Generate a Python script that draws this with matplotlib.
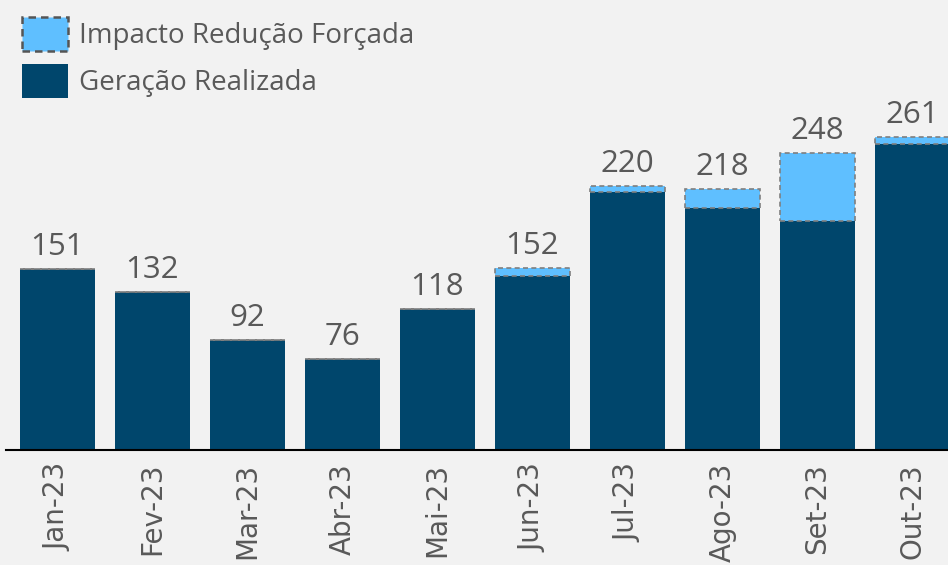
import matplotlib
matplotlib.use("Agg")
import matplotlib.pyplot as plt
from matplotlib.patches import Patch
import numpy as np

months = ["Jan-23", "Fev-23", "Mar-23", "Abr-23", "Mai-23", "Jun-23", "Jul-23", "Ago-23", "Set-23", "Out-23"]
realizada = [151, 132, 92, 76, 118, 145, 215, 202, 191, 255]
impacto = [0, 0, 0, 0, 0, 7, 5, 16, 57, 6]
totais = [151, 132, 92, 76, 118, 152, 220, 218, 248, 261]

BG = "#F2F2F2"
DARK = "#00466C"
LIGHT = "#5FBFFF"
EDGE = "#7F7F7F"
TXT = "#595959"

fig = plt.figure(figsize=(9.48, 5.65), dpi=100, facecolor=BG)
ax = fig.add_axes([6 / 948, 0.2027, 942 / 948, 0.7973], facecolor=BG)

x = np.arange(len(months))
w = 0.79
ax.bar(x, realizada, width=w, color=DARK, edgecolor="none", zorder=2)
ax.bar(x, impacto, bottom=realizada, width=w, color=LIGHT, edgecolor=EDGE,
       linestyle=(0, (3, 2)), linewidth=1.2, zorder=3)

for xi, t in zip(x, totais):
    ax.annotate(str(t), (xi, t), xytext=(0, 5), textcoords="offset points",
                ha="center", va="bottom", fontsize=22.5, color=TXT, family="Open Sans")

ax.set_xlim(-0.542, 9.374)
ax.set_ylim(0, 375)
ax.set_yticks([])
for s in ["top", "right", "left"]:
    ax.spines[s].set_visible(False)
ax.spines["bottom"].set_color("#000000")
ax.spines["bottom"].set_linewidth(1.5)
ax.set_xticks(x)
ax.set_xticklabels(months, rotation=90, fontsize=20, color=TXT, fontfamily="DejaVu Sans")
ax.tick_params(axis="x", length=0, pad=9)

handles = [Patch(facecolor=LIGHT, edgecolor="#555555", linestyle=(0, (3, 2)), linewidth=1.8,
                 label="Impacto Redução Forçada"),
           Patch(facecolor=DARK, edgecolor="none", label="Geração Realizada")]
leg = fig.legend(handles=handles, loc="upper left", bbox_to_anchor=(22 / 948, 1 - 17 / 565),
                 frameon=False, handlelength=1.65, handleheight=1.5,
                 handletextpad=0.4, labelspacing=0.47, borderpad=0, borderaxespad=0,
                 prop={"family": "Open Sans", "size": 20})
for t in leg.get_texts():
    t.set_color(TXT)

fig.savefig("out.png", dpi=100, facecolor=BG)
